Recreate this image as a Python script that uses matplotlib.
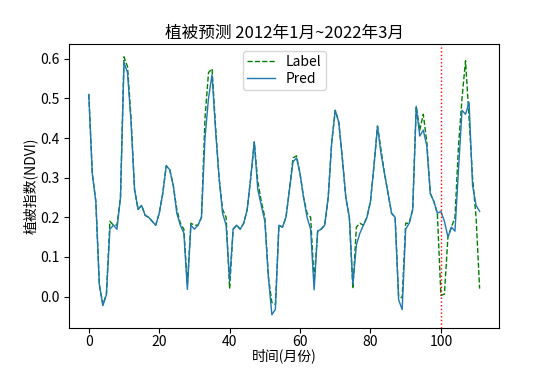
import matplotlib
matplotlib.use('Agg')
import matplotlib.pyplot as plt
import numpy as np

plt.rcParams['font.family'] = ['Noto Sans CJK SC', 'DejaVu Sans']
plt.rcParams['axes.unicode_minus'] = False

# predicted NDVI, months 0..111
pred = [0.51, 0.31, 0.24, 0.03, -0.023, 0.005, 0.17, 0.18, 0.17, 0.25,
        0.59, 0.565, 0.44, 0.27, 0.22, 0.23, 0.205, 0.2, 0.19, 0.18,
        0.21, 0.26, 0.33, 0.32, 0.28, 0.21, 0.18, 0.16, 0.018, 0.18,
        0.17, 0.18, 0.2, 0.4, 0.5, 0.56, 0.42, 0.3, 0.21, 0.18,
        0.04, 0.17, 0.18, 0.17, 0.185, 0.22, 0.3, 0.39, 0.27, 0.23,
        0.19, 0.05, -0.046, -0.032, 0.18, 0.175, 0.2, 0.27, 0.34, 0.35,
        0.31, 0.25, 0.2, 0.17, 0.017, 0.165, 0.17, 0.18, 0.25, 0.39,
        0.47, 0.44, 0.35, 0.25, 0.2, 0.03, 0.13, 0.16, 0.18, 0.2,
        0.24, 0.33, 0.43, 0.36, 0.31, 0.26, 0.21, 0.2, -0.008, -0.033,
        0.17, 0.185, 0.22, 0.48, 0.405, 0.42, 0.38, 0.26, 0.24, 0.21,
        0.215, 0.19, 0.15, 0.175, 0.165, 0.32, 0.47, 0.46, 0.49, 0.28,
        0.23, 0.215]

# observed NDVI
label = [0.51, 0.31, 0.24, 0.03, -0.02, 0.005, 0.19, 0.18, 0.18, 0.25,
         0.605, 0.58, 0.45, 0.27, 0.22, 0.23, 0.205, 0.2, 0.19, 0.18,
         0.21, 0.26, 0.33, 0.32, 0.28, 0.22, 0.185, 0.17, 0.03, 0.185,
         0.18, 0.18, 0.2, 0.45, 0.565, 0.575, 0.43, 0.3, 0.22, 0.2,
         0.02, 0.17, 0.18, 0.17, 0.185, 0.22, 0.3, 0.39, 0.29, 0.24,
         0.2, 0.05, -0.015, -0.02, 0.18, 0.175, 0.2, 0.27, 0.35, 0.355,
         0.31, 0.25, 0.21, 0.2, 0.04, 0.165, 0.17, 0.18, 0.25, 0.39,
         0.47, 0.44, 0.35, 0.25, 0.2, 0.02, 0.175, 0.185, 0.18, 0.2,
         0.24, 0.33, 0.43, 0.37, 0.31, 0.26, 0.21, 0.2, 0.0, -0.003,
         0.185, 0.185, 0.22, 0.48, 0.42, 0.46, 0.39, 0.26, 0.24, 0.21,
         0.003, 0.006, 0.15, 0.175, 0.2, 0.38, 0.5, 0.595, 0.45, 0.3,
         0.2, 0.02]

split = 100
months = np.arange(len(pred))

fig = plt.figure(figsize=(5.54, 3.69), dpi=100)
ax = fig.add_axes([0.125, 0.112, 0.776, 0.769])
ax.plot(months, label, 'g--', linewidth=1, label='Label')
ax.plot(months, pred, color='#1f77b4', linewidth=1, label='Pred')
ax.axvline(split, color='r', linestyle=':', linewidth=1)
ax.set_title('植被预测 2012年1月~2022年3月', pad=4)
ax.set_xlabel('时间(月份)', labelpad=-1)
ax.set_ylabel('植被指数(NDVI)', labelpad=2)
ax.tick_params(axis='x', pad=2)
ax.legend(loc='upper center', borderpad=0.3, labelspacing=0.2)
fig.savefig('out.png')
